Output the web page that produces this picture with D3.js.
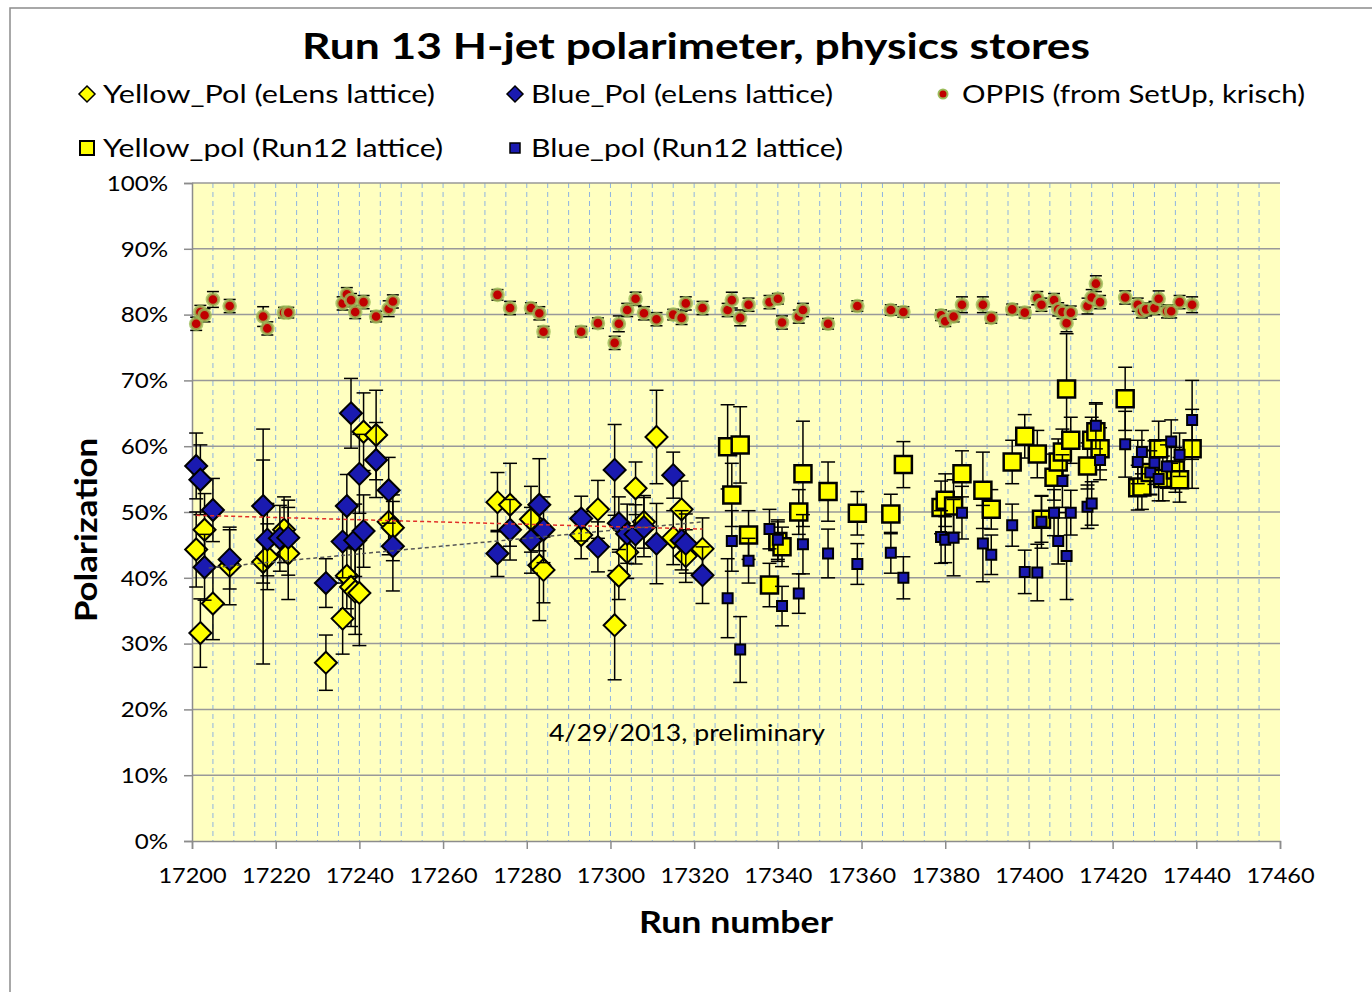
<!DOCTYPE html>
<html>
<head>
<meta charset="utf-8">
<script src="https://cdn.jsdelivr.net/npm/d3@7"></script>
<style>
body { margin: 0; background: #fff; }
svg { display: block; }
</style>
</head>
<body>
<div id="chart"></div>
<script>
// data (run number, polarization %, error %)
var yellowElensRun = [17201,17202,17203,17205,17209,17217,17218,17222,17223,17232,17236,17237,17238,17239,17240,17241,17244,17247,17248,17273,17276,17281,17283,17284,17293,17297,17301,17302,17304,17306,17308,17311,17315,17317,17318,17322];
var yellowElensPol = [44.3,31.6,47.3,36.1,41.8,42.4,43.2,47.3,43.7,27.1,33.8,40.3,38.6,37.9,37.7,62.2,61.7,48.5,47.6,51.5,51.1,48.9,41.9,41.2,46.5,50.4,32.8,40.3,43.9,53.6,48.5,61.4,46.1,50.4,43.3,44.4];
var yellowElensErr = [5.7,5.2,5.5,5.5,5.9,15.5,5,5,7,4.2,5.4,5,6,6.5,8,5.9,6.8,5,5,4.5,6.3,5,8.4,5,3.6,4.4,8.3,3.6,4,4,4,7.1,4.1,4.3,4,4.7];

var blueElensRun = [17201,17202,17203,17205,17209,17217,17218,17221,17223,17232,17236,17237,17238,17239,17240,17241,17244,17247,17248,17273,17276,17281,17283,17284,17293,17297,17301,17302,17304,17306,17308,17311,17315,17317,17318,17322];
var blueElensPol = [57.0,54.9,41.6,50.3,42.8,50.9,45.8,46.0,46.1,39.2,45.5,50.9,65.0,45.7,55.8,47.1,57.9,53.3,44.8,43.7,47.3,45.7,51.1,47.3,49.0,44.7,56.4,48.3,46.7,46.6,47.7,45.2,55.6,45.7,45.2,40.4];
var blueElensErr = [5,5.3,5,4.8,4.5,11.7,5.5,5,5.7,3.7,5.5,4.8,5.3,5.5,6,5.5,5.7,5,6.8,3.5,4.6,5,7,5,3.4,3.8,6.9,4,4.5,4.5,4.5,6.1,3.5,4.5,4.5,4.3];

var oppisRun = [17201,17202,17203,17205,17209,17217,17218,17222,17223,17236,17237,17238,17239,17241,17244,17247,17248,17273,17276,17281,17283,17284,17293,17297,17301,17302,17304,17306,17308,17311,17315,17317,17318,17322,17328,17329,17331,17333,17338,17340,17341,17345,17346,17352,17359,17367,17370,17379,17380,17382,17384,17389,17391,17396,17399,17402,17403,17406,17407,17408,17409,17410,17414,17415,17416,17417,17423,17426,17427,17428,17430,17431,17433,17434,17436,17439];
var oppisPol = [78.6,80.4,79.9,82.3,81.3,79.7,77.9,80.3,80.3,81.7,83.1,82.2,80.4,81.9,79.7,80.9,82.0,83.0,81.0,81.0,80.2,77.4,77.4,78.7,75.7,78.6,80.7,82.4,80.2,79.3,80.0,79.5,81.7,81.0,80.7,82.2,79.5,81.5,81.9,82.4,78.8,79.7,80.7,78.6,81.3,80.7,80.4,79.9,79.0,79.7,81.5,81.5,79.5,80.8,80.3,82.5,81.5,82.2,80.8,80.4,78.7,80.3,81.3,82.6,84.7,81.9,82.6,81.5,80.5,80.8,81.0,82.4,80.5,80.5,81.9,81.5];
var oppisErr = [1,1,1,1.2,1,1.5,1,0.8,0.8,1,1,1,1,1,0.8,1.2,1,0.8,1,0.8,1,0.8,0.8,0.8,1,1.2,1,1,1,1,0.8,1,1,1,1,1.2,1.2,1,1,0.8,1,1,1,0.8,0.8,0.8,0.8,0.8,0.8,0.8,1.2,1.2,0.8,0.8,0.8,1,1,1,1,1,1.3,1,1.2,1.2,1.2,1,1,1,1,1,1,1.2,1,1,1,1.2];

var yellowR12Run = [17328,17329,17331,17333,17338,17340,17341,17345,17346,17352,17359,17367,17370,17379,17380,17382,17384,17389,17391,17396,17399,17402,17403,17406,17407,17408,17409,17410,17414,17415,17416,17417,17423,17426,17427,17429,17431,17432,17435,17436,17439];
var yellowR12Pol = [59.9,52.6,60.2,46.5,38.9,45.5,44.7,50.0,55.8,53.1,49.8,49.7,57.2,50.7,51.8,50.9,55.8,53.3,50.4,57.6,61.5,58.8,48.9,55.3,57.6,59.1,68.7,60.9,57.0,60.9,62.2,59.6,67.2,53.7,53.8,56.0,59.6,55.1,56.4,54.9,59.6];
var yellowR12Err = [6.4,4.8,5.8,3.7,3.3,3,3,3.4,8,4.5,3.3,3,3.5,4,4,4,3.5,5.8,3,3.3,3.3,3.6,3.5,3.5,3.5,3.5,8.4,3.5,3.5,3.5,4.2,3.2,4.8,3.4,3.4,3.4,4.2,3.4,3.4,3.4,6];

var blueR12Run = [17328,17329,17331,17333,17338,17340,17341,17345,17346,17352,17359,17367,17370,17379,17380,17382,17384,17389,17391,17396,17399,17402,17403,17406,17407,17408,17409,17410,17414,17415,17416,17417,17423,17426,17427,17429,17430,17431,17433,17434,17436,17439];
var blueR12Pol = [36.9,45.6,29.1,42.6,47.4,45.8,35.7,37.6,45.1,43.7,42.1,43.8,40.0,46.2,45.8,46.1,49.9,45.2,43.5,48.0,40.9,40.8,48.5,49.9,45.6,54.7,43.3,49.9,50.8,51.3,63.1,57.9,60.3,57.6,59.1,56.0,57.5,55.0,56.9,60.7,58.7,64.0];
var blueR12Err = [6,4.6,5,3.4,3,3,3,3,4.5,3.7,3.1,3.1,3.2,4,3.5,5.8,4,5.8,3,3.2,3.3,4.3,4,3.5,3.5,4,6.6,3.4,3.3,3.3,3.5,3,5,3.3,3.3,3.3,3.3,3.3,3.3,3.3,3.3,6];

// linear trend lines (two end points each)
var trendRedRun = [17201, 17322];
var trendRedPol = [49.5, 47.4];
var trendGrayRun = [17204, 17322];
var trendGrayPol = [41.5, 48.5];

var yTicks = [0,10,20,30,40,50,60,70,80,90,100];
var xTicks = [17200,17220,17240,17260,17280,17300,17320,17340,17360,17380,17400,17420,17440,17460];

var width = 1372, height = 992;
var FONT = "Lato, 'Open Sans', sans-serif";
var blue = "#1a1ab0", yellow = "#ffff00";

var svg = d3.select("#chart").append("svg").attr("width", width).attr("height", height);

// the reference text is a bit wider than Lato, so stretch it horizontally
function stretch(sel, k) {
  sel.each(function() {
    var w = this.getComputedTextLength();
    d3.select(this).attr("textLength", w * k).attr("lengthAdjust", "spacingAndGlyphs");
  });
  return sel;
}

// chart frame
svg.append("rect").attr("x", 10).attr("y", 8).attr("width", 1400).attr("height", 1100)
  .attr("fill", "#fff").attr("stroke", "#8c8c8c").attr("stroke-width", 1.5);

var x = d3.scaleLinear().domain([17200, 17460]).range([192, 1280]);
var y = d3.scaleLinear().domain([0, 100]).range([841, 183]);

// plot area
svg.append("rect").attr("x", x(17200)).attr("y", y(100)).attr("width", x(17460) - x(17200)).attr("height", y(0) - y(100))
  .attr("fill", "#ffffc0");

// dashed minor verticals every 5 runs
svg.append("g").selectAll("line").data(d3.range(17205, 17460, 5)).enter().append("line")
  .attr("x1", function(d) { return x(d); }).attr("x2", function(d) { return x(d); })
  .attr("y1", y(100)).attr("y2", y(0))
  .attr("stroke", "#8db3e2").attr("stroke-width", 1).attr("stroke-dasharray", "5,4");

// horizontal gridlines
svg.append("g").selectAll("line").data(yTicks.slice(1)).enter().append("line")
  .attr("x1", x(17200)).attr("x2", x(17460))
  .attr("y1", function(d) { return y(d); }).attr("y2", function(d) { return y(d); })
  .attr("stroke", "#999").attr("stroke-width", 1.5);

// axes
var yAxis = svg.append("g").attr("transform", "translate(" + x(17200) + ",0)")
  .call(d3.axisLeft(y).tickValues(yTicks).tickSize(8).tickFormat(function(d) { return d + "%"; }));
var xAxis = svg.append("g").attr("transform", "translate(0," + y(0) + ")")
  .call(d3.axisBottom(x).tickValues(xTicks).tickSize(8).tickFormat(d3.format("d")));
[yAxis, xAxis].forEach(function(a) {
  a.select(".domain").attr("stroke", "#8c8c8c").attr("stroke-width", 1.5);
  a.selectAll(".tick line").attr("stroke", "#8c8c8c").attr("stroke-width", 1.5);
  a.selectAll("text").attr("font-family", FONT).attr("font-size", 21).attr("fill", "#000");
});
yAxis.selectAll("text").attr("x", -24).attr("dy", "0.35em");
xAxis.selectAll("text").attr("y", 27).attr("dy", "0.71em");
stretch(yAxis.selectAll("text"), 1.15);
stretch(xAxis.selectAll("text"), 1.12);

function zip(runs, pols, errs) {
  return runs.map(function(r, i) { return { run: r, pol: pols[i], err: errs[i] }; });
}

function errorBars(data, cap) {
  var g = svg.append("g").attr("stroke", "#000").attr("stroke-width", 1.5);
  data.forEach(function(d) {
    var cx = x(d.run), t = y(d.pol + d.err), b = y(d.pol - d.err);
    g.append("line").attr("x1", cx).attr("x2", cx).attr("y1", t).attr("y2", b);
    g.append("line").attr("x1", cx - cap).attr("x2", cx + cap).attr("y1", t).attr("y2", t);
    g.append("line").attr("x1", cx - cap).attr("x2", cx + cap).attr("y1", b).attr("y2", b);
  });
}

var diamond = function(s) { return "M0," + (-s) + "L" + s + ",0L0," + s + "L" + (-s) + ",0Z"; };
var square = function(s) { return "M" + (-s) + "," + (-s) + "h" + (2 * s) + "v" + (2 * s) + "h" + (-2 * s) + "Z"; };

function markers(data, pathFn, size, fill, sw) {
  svg.append("g").selectAll("path").data(data).enter().append("path")
    .attr("d", pathFn(size))
    .attr("transform", function(d) { return "translate(" + x(d.run) + "," + y(d.pol) + ")"; })
    .attr("fill", fill).attr("stroke", "#000").attr("stroke-width", sw);
}

var yE = zip(yellowElensRun, yellowElensPol, yellowElensErr);
var bE = zip(blueElensRun, blueElensPol, blueElensErr);
var op = zip(oppisRun, oppisPol, oppisErr);
var yR = zip(yellowR12Run, yellowR12Pol, yellowR12Err);
var bR = zip(blueR12Run, blueR12Pol, blueR12Err);

errorBars(yE, 7);
markers(yE, diamond, 11, yellow, 2);
errorBars(bE, 7);
markers(bE, diamond, 11, blue, 2);

errorBars(op, 6);
svg.append("g").selectAll("circle").data(op).enter().append("circle")
  .attr("cx", function(d) { return x(d.run); }).attr("cy", function(d) { return y(d.pol); })
  .attr("r", 5.8).attr("fill", "#c00000").attr("stroke", "#9bbb59").attr("stroke-opacity", 0.8).attr("stroke-width", 3);

errorBars(yR, 7);
markers(yR, square, 8.5, yellow, 2.5);
errorBars(bR, 7);
markers(bR, square, 5, blue, 2);

// trend lines
var line = d3.line().x(function(d) { return x(d[0]); }).y(function(d) { return y(d[1]); });
svg.append("path").attr("d", line(d3.zip(trendRedRun, trendRedPol)))
  .attr("fill", "none").attr("stroke", "#e0302a").attr("stroke-width", 1.5).attr("stroke-dasharray", "4,3");
svg.append("path").attr("d", line(d3.zip(trendGrayRun, trendGrayPol)))
  .attr("fill", "none").attr("stroke", "#555").attr("stroke-width", 1.5).attr("stroke-dasharray", "4,3");

// titles
stretch(svg.append("text").attr("x", 696).attr("y", 59).attr("text-anchor", "middle")
  .attr("font-family", FONT).attr("font-weight", "bold").attr("font-size", 37)
  .text("Run 13 H-jet polarimeter, physics stores"), 1.2);
stretch(svg.append("text").attr("x", 736).attr("y", 933).attr("text-anchor", "middle")
  .attr("font-family", FONT).attr("font-weight", "bold").attr("font-size", 30)
  .text("Run number"), 1.19);
stretch(svg.append("text").attr("transform", "translate(97,530) rotate(-90)").attr("text-anchor", "middle")
  .attr("font-family", FONT).attr("font-weight", "bold").attr("font-size", 30)
  .text("Polarization"), 1.16);
stretch(svg.append("text").attr("x", 687).attr("y", 741).attr("text-anchor", "middle")
  .attr("font-family", FONT).attr("font-size", 23)
  .text("4/29/2013, preliminary"), 1.16);

// legend
var legendItems = [
  { label: "Yellow_Pol (eLens lattice)", lx: 87, ly: 94, kind: "diamond", fill: yellow, w: 332 },
  { label: "Blue_Pol (eLens lattice)", lx: 515, ly: 94, kind: "diamond", fill: blue, w: 302 },
  { label: "OPPIS (from SetUp, krisch)", lx: 943, ly: 94, kind: "circle", fill: "#c00000", w: 343 },
  { label: "Yellow_pol (Run12 lattice)", lx: 87, ly: 148, kind: "bigsquare", fill: yellow, w: 340 },
  { label: "Blue_pol (Run12 lattice)", lx: 515, ly: 148, kind: "smallsquare", fill: blue, w: 312 }
];
var lg = svg.append("g").selectAll("g").data(legendItems).enter().append("g")
  .attr("transform", function(d) { return "translate(" + d.lx + "," + d.ly + ")"; });
lg.each(function(d) {
  var g = d3.select(this);
  if (d.kind === "diamond") g.append("path").attr("d", diamond(8)).attr("fill", d.fill).attr("stroke", "#000").attr("stroke-width", 1.5);
  if (d.kind === "circle") g.append("circle").attr("r", 4.5).attr("fill", d.fill).attr("stroke", "#9bbb59").attr("stroke-width", 2);
  if (d.kind === "bigsquare") g.append("path").attr("d", square(7)).attr("fill", d.fill).attr("stroke", "#000").attr("stroke-width", 2);
  if (d.kind === "smallsquare") g.append("path").attr("d", square(5)).attr("fill", d.fill).attr("stroke", "#000").attr("stroke-width", 1.5);
  g.append("text").attr("x", d.kind === "circle" ? 19 : 16).attr("dy", "0.35em")
    .attr("font-family", FONT).attr("font-size", 25)
    .attr("textLength", d.w).attr("lengthAdjust", "spacingAndGlyphs").text(d.label);
});
</script>
</body>
</html>
